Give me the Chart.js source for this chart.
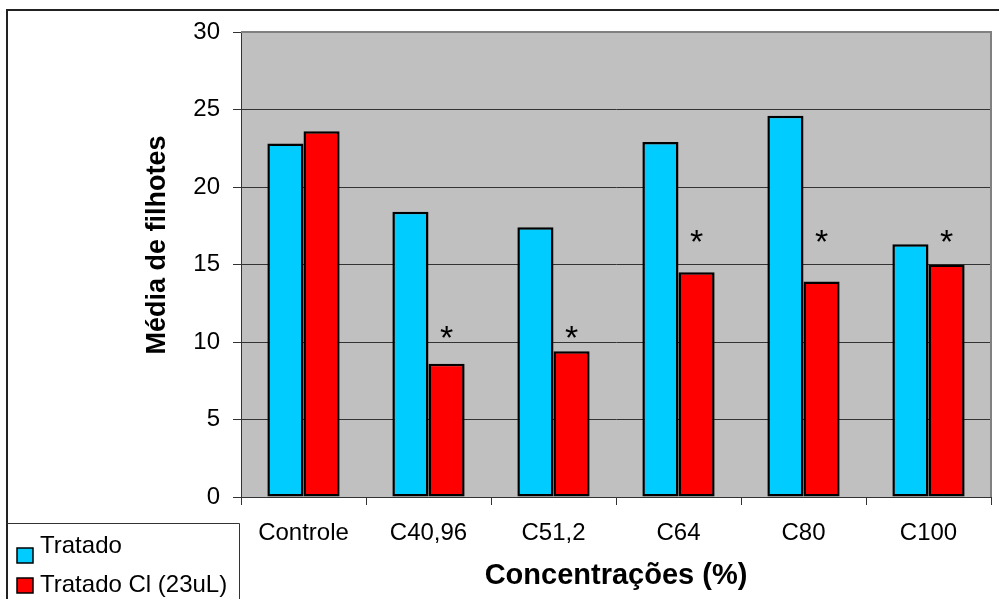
<!DOCTYPE html>
<html><head><meta charset="utf-8">
<script src="https://cdn.jsdelivr.net/npm/chart.js@4.4.0/dist/chart.umd.min.js"></script>
<style>html,body{margin:0;padding:0;background:#fff;overflow:hidden}#wrap{width:999px;height:599px;position:relative}</style>
</head><body><div id="wrap"><canvas id="c" width="999" height="599"></canvas></div>
<script>
const categories = ['Controle', 'C40,96', 'C51,2', 'C64', 'C80', 'C100'];
const tratado = [22.8, 18.4, 17.4, 22.9, 24.6, 16.3];
const tratadoCl = [23.6, 8.6, 9.4, 14.5, 13.9, 15.0];
const seriesNames = ['Tratado', 'Tratado Cl (23uL)'];
const asteriskLevels = [null, 10.6, 10.6, 16.8, 16.8, 16.8];
const yTicks = [0, 5, 10, 15, 20, 25, 30];
const yTitle = 'Média de filhotes';
const xTitle = 'Concentrações (%)';

const FONT = "'Liberation Sans', Arial, sans-serif";
const BLUE = '#00CCFF', RED = '#FF0000';

const bgPlugin = {
  id: 'bg',
  beforeDraw(chart) {
    const { ctx, chartArea: a } = chart;
    ctx.save();
    ctx.fillStyle = '#fff';
    ctx.fillRect(0, 0, chart.width, chart.height);
    ctx.fillStyle = '#C0C0C0';
    ctx.fillRect(a.left, a.top, a.right - a.left, a.bottom - a.top);
    ctx.restore();
  }
};

const decoPlugin = {
  id: 'deco',
  afterDatasetsDraw(chart) {
    const { ctx } = chart;
    const meta = chart.getDatasetMeta(1);
    const y = chart.scales.y;
    const fs = 34;
    ctx.save();
    ctx.fillStyle = '#000';
    ctx.font = fs + 'px ' + FONT;
    ctx.textAlign = 'center';
    ctx.textBaseline = 'alphabetic';
    asteriskLevels.forEach((lv, i) => {
      if (lv == null) return;
      const bar = meta.data[i];
      ctx.fillText('*', bar.x, y.getPixelForValue(lv) + fs * 0.47);
    });
    ctx.restore();
  },
  afterDraw(chart) {
    const { ctx, chartArea: a } = chart;
    ctx.save();
    // plot area right/top border
    ctx.strokeStyle = '#808080';
    ctx.lineWidth = 2;
    ctx.beginPath();
    ctx.moveTo(a.left, a.top);
    ctx.lineTo(a.right, a.top);
    ctx.lineTo(a.right, a.bottom);
    ctx.stroke();
    // outer frame
    ctx.strokeStyle = '#222';
    ctx.lineWidth = 2;
    ctx.beginPath();
    ctx.moveTo(7, 605);
    ctx.lineTo(7, 10);
    ctx.lineTo(1005, 10);
    ctx.stroke();
    // legend box
    ctx.strokeStyle = '#333';
    ctx.lineWidth = 1;
    ctx.beginPath();
    ctx.moveTo(7, 523.5);
    ctx.lineTo(239.5, 523.5);
    ctx.lineTo(239.5, 605);
    ctx.stroke();
    // legend entries
    const ds = chart.data.datasets;
    const rows = [{ sq: 548, tx: 553 }, { sq: 578, tx: 592 }];
    ds.forEach((d, i) => {
      const r = rows[i];
      ctx.fillStyle = d.backgroundColor;
      ctx.fillRect(17, r.sq, 16, 15);
      ctx.strokeStyle = '#000';
      ctx.lineWidth = 1.5;
      ctx.strokeRect(17, r.sq, 16, 15);
      ctx.fillStyle = '#000';
      ctx.font = '24px ' + FONT;
      ctx.textAlign = 'left';
      ctx.textBaseline = 'alphabetic';
      ctx.fillText(d.label, 40, r.tx);
    });
    // y title
    ctx.translate(158, 245);
    ctx.rotate(-Math.PI / 2);
    ctx.fillStyle = '#000';
    ctx.font = 'bold 27px ' + FONT;
    ctx.textAlign = 'center';
    ctx.textBaseline = 'middle';
    ctx.fillText(yTitle, 0, 0);
    ctx.restore();
  }
};

new Chart(document.getElementById('c'), {
  type: 'bar',
  data: {
    labels: categories,
    datasets: [
      { label: seriesNames[0], data: tratado, backgroundColor: BLUE, borderColor: '#000', borderWidth: 2.5, borderSkipped: false },
      { label: seriesNames[1], data: tratadoCl, backgroundColor: RED, borderColor: '#000', borderWidth: 2.5, borderSkipped: false }
    ]
  },
  options: {
    responsive: false,
    devicePixelRatio: 1,
    animation: false,
    datasets: { bar: { categoryPercentage: 0.578, barPercentage: 1 } },
    layout: { padding: { left: 0, top: 32, right: 8, bottom: 0 } },
    plugins: { legend: { display: false }, tooltip: { enabled: false } },
    scales: {
      x: {
        afterFit(s) { s.height = 102; },
        grid: { display: true, drawOnChartArea: false, offset: true, tickLength: 8, color: '#333', lineWidth: 1 },
        border: { display: true, color: '#333', width: 1 },
        ticks: { color: '#000', font: { family: FONT, size: 24 }, padding: 14, maxRotation: 0 },
        title: { display: true, text: xTitle, color: '#000', font: { family: FONT, size: 29, weight: 'bold' }, padding: { top: 0, bottom: 6 } }
      },
      y: {
        min: 0, max: 30,
        afterFit(s) { s.width = 241; },
        afterBuildTicks(s) { s.ticks = yTicks.map(v => ({ value: v })); },
        grid: { color: '#333', lineWidth: 1, tickLength: 8 },
        border: { display: true, color: '#333', width: 1 },
        ticks: { color: '#000', font: { family: FONT, size: 24 }, padding: 13 },
        title: { display: false }
      }
    }
  },
  plugins: [bgPlugin, decoPlugin]
});
</script>
</body></html>
